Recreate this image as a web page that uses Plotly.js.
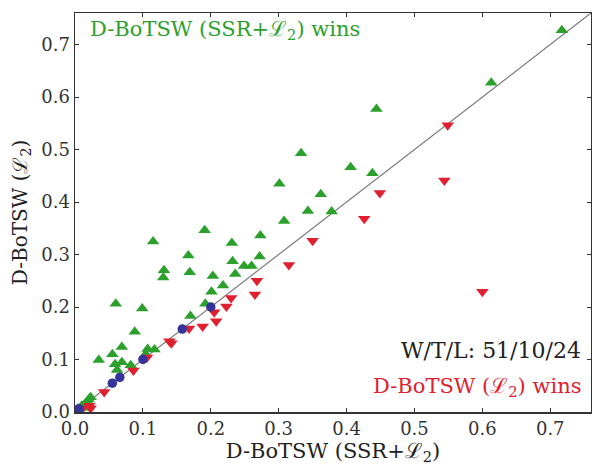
<!DOCTYPE html>
<html>
<head>
<meta charset="utf-8">
<script src="https://cdn.plot.ly/plotly-3.0.1.min.js"></script>
<style>html,body{margin:0;padding:0;background:#fff;}#chart{width:592px;height:465px;}</style>
</head>
<body>
<div id="chart"></div>
<script>
// Green: D-BoTSW (SSR+L2) wins
const winX = [0.717,0.613,0.444,0.333,0.406,0.438,0.301,0.362,0.343,0.378,0.308,0.273,0.231,0.191,0.115,0.167,0.131,0.130,0.169,0.272,0.232,0.249,0.260,0.203,0.236,0.218,0.201,0.192,0.170,0.060,0.099,0.088,0.069,0.055,0.035,0.059,0.069,0.062,0.082,0.107,0.117,0.104,0.023,0.018,0.015,0.007,0.010,0.012,0.004,0.002,0.020];
const winY = [0.727,0.627,0.577,0.493,0.466,0.455,0.435,0.415,0.383,0.382,0.364,0.336,0.322,0.346,0.325,0.298,0.270,0.256,0.266,0.296,0.287,0.278,0.278,0.259,0.263,0.241,0.229,0.206,0.183,0.206,0.197,0.153,0.124,0.110,0.099,0.091,0.095,0.080,0.089,0.120,0.119,0.110,0.028,0.020,0.016,0.006,0.012,0.008,0.006,0.004,0.024];
// Blue: ties
const tieX = [0.000,0.001,0.002,0.004,0.006,0.055,0.066,0.100,0.158,0.200];
const tieY = [0.000,0.001,0.002,0.004,0.006,0.055,0.066,0.100,0.158,0.200];
// Red: D-BoTSW (L2) wins
const lossX = [0.549,0.544,0.600,0.449,0.426,0.350,0.315,0.268,0.265,0.230,0.223,0.205,0.208,0.188,0.168,0.142,0.139,0.106,0.086,0.043,0.023,0.021,0.004,0.010];
const lossY = [0.546,0.441,0.229,0.417,0.368,0.326,0.280,0.250,0.224,0.217,0.201,0.190,0.173,0.163,0.159,0.131,0.135,0.104,0.079,0.038,0.007,0.012,0.002,0.006];
const diag = [0, 0.76];
const tickVals = [0,0.1,0.2,0.3,0.4,0.5,0.6,0.7];
const tickText = ['0.0','0.1','0.2','0.3','0.4','0.5','0.6','0.7'];

const green = '#2ca02c', red = '#e0202e', blue = '#34349a';
const serif = 'DejaVu Serif, Liberation Serif, serif';

const traces = [
  {x: diag, y: diag, mode: 'lines', line: {color: '#7a7a7a', width: 1.2}, hoverinfo: 'skip'},
  {x: winX, y: winY, mode: 'markers', marker: {symbol: 'triangle-up', size: 11, color: green}},
  {x: lossX, y: lossY, mode: 'markers', marker: {symbol: 'triangle-down', size: 11, color: red}},
  {x: tieX, y: tieY, mode: 'markers', marker: {symbol: 'circle', size: 9.5, color: blue}}
];

const axisCommon = {
  range: [0, 0.76], tickvals: tickVals, ticktext: tickText,
  ticks: 'inside', ticklen: 4, tickcolor: '#333', tickwidth: 1,
  showline: true, linecolor: '#333', linewidth: 1.5, mirror: 'ticks',
  showgrid: false, zeroline: false,
  tickfont: {family: serif, size: 18, color: '#333'}
};

const layout = {
  width: 592, height: 465,
  margin: {l: 75, r: 1, t: 13, b: 53},
  paper_bgcolor: '#fff', plot_bgcolor: '#fff',
  showlegend: false,
  xaxis: Object.assign({}, axisCommon, {
    title: {text: 'D-BoTSW (SSR+ℒ<sub>2</sub>)', font: {family: serif, size: 21, color: '#222'}, standoff: 4}
  }),
  yaxis: Object.assign({}, axisCommon, {
    title: {text: 'D-BoTSW (ℒ<sub>2</sub>)', font: {family: serif, size: 20, color: '#222'}, standoff: 8}
  }),
  annotations: [
    {xref: 'paper', yref: 'paper', x: 0.025, y: 0.957, xanchor: 'left', yanchor: 'middle', showarrow: false,
     text: 'D-BoTSW (SSR+ℒ<sub>2</sub>) wins', font: {family: serif, size: 21, color: green}},
    {xref: 'paper', yref: 'paper', x: 0.984, y: 0.153, xanchor: 'right', yanchor: 'middle', showarrow: false,
     text: 'W/T/L: 51/10/24', font: {family: serif, size: 22, color: '#222'}},
    {xref: 'paper', yref: 'paper', x: 0.984, y: 0.063, xanchor: 'right', yanchor: 'middle', showarrow: false,
     text: 'D-BoTSW (ℒ<sub>2</sub>) wins', font: {family: serif, size: 21, color: red}}
  ]
};

Plotly.newPlot('chart', traces, layout, {staticPlot: true, displayModeBar: false});
</script>
</body>
</html>
